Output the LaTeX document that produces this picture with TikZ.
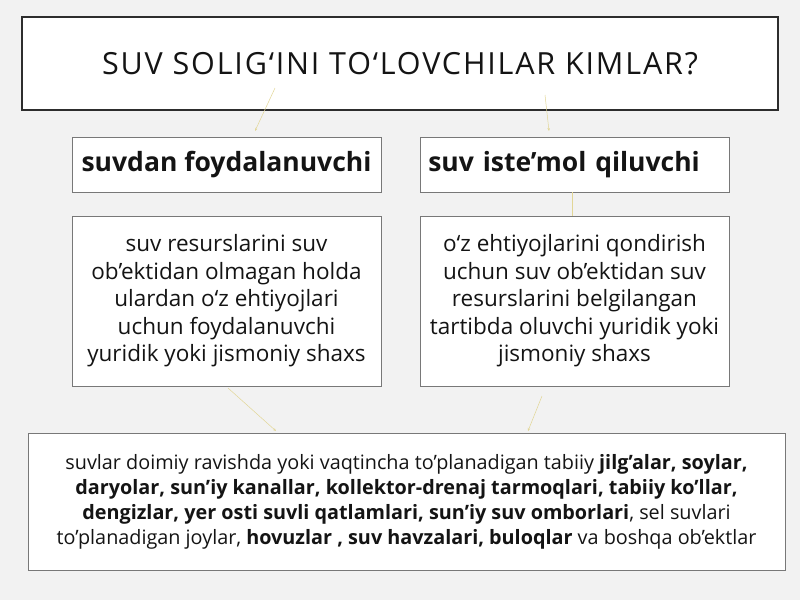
\documentclass[tikz,border=0pt]{standalone}
\usepackage{fontspec}
\setmainfont{Open Sans}
\usetikzlibrary{arrows.meta, positioning}
\definecolor{pagegray}{RGB}{242,242,242}
\definecolor{framedark}{RGB}{45,45,45}
\definecolor{framegray}{RGB}{120,120,120}
\definecolor{linkyellow}{RGB}{226,214,150}
\definecolor{textdark}{RGB}{20,20,20}

\begin{document}
\begin{tikzpicture}[x=1pt, y=-1pt,
    titlebox/.style={draw=framedark, line width=2pt, fill=white, minimum width=756pt, minimum height=93pt, inner sep=0pt},
    headbox/.style={draw=framegray, line width=0.6pt, fill=white, minimum width=309pt, minimum height=55pt, inner sep=0pt, font=\fontsize{26.5}{30}\selectfont\bfseries},
    descbox/.style={draw=framegray, line width=0.6pt, fill=white, minimum width=309pt, minimum height=170pt, inner sep=0pt, align=center, font=\fontsize{22.5}{27.5}\selectfont},
    wide/.style={draw=framegray, line width=0.6pt, fill=white, minimum width=757pt, minimum height=137pt, inner sep=0pt, align=center, font=\fontsize{19.8}{25}\selectfont},
    link/.style={linkyellow, line width=0.5pt, -{Stealth[length=3pt, width=2.5pt]}}]
    % page
    \fill[pagegray] (0,0) rectangle (800,600);
    \useasboundingbox (0,0) rectangle (800,600);

    % title
    \node[titlebox, text=textdark] (title) at (400,63.5)
        {\addfontfeatures{LetterSpace=6}\fontsize{30.5}{34}\selectfont SUV SOLIG‘INI TO‘LOVCHILAR KIMLAR?};

    % two kinds of payer
    \node[headbox, text=textdark] (user) at (226.5,164.5) {suvdan foydalanuvchi};
    \node[headbox, text=textdark, anchor=west, text width=293pt, inner xsep=8pt] (consumer) at (420,164.5) {suv iste’mol qiluvchi};

    \node[descbox, text=textdark] (userdef) at (226.5,301)
        {suv resurslarini suv\\ob’ektidan olmagan holda\\ulardan o‘z ehtiyojlari\\uchun foydalanuvchi\\yuridik yoki jismoniy shaxs};
    \node[descbox, text=textdark] (consdef) at (574.5,301)
        {o‘z ehtiyojlarini qondirish\\uchun suv ob’ektidan suv\\resurslarini belgilangan\\tartibda oluvchi yuridik yoki\\jismoniy shaxs};

    % water objects
    \node[wide, text=textdark] (objects) at (406.5,501.5)
        {\raisebox{0pt}[\height][\depth]{}%
         suvlar doimiy ravishda yoki vaqtincha to’planadigan tabiiy \textbf{jilg’alar, soylar,}\\
         \textbf{daryolar, sun’iy kanallar, kollektor-drenaj tarmoqlari, tabiiy ko’llar,}\\
         \textbf{dengizlar, yer osti suvli qatlamlari, sun’iy suv omborlari}, sel suvlari\\
         to’planadigan joylar, \textbf{hovuzlar , suv havzalari, buloqlar} va boshqa ob’ektlar};

    % faint links
    \coordinate (t1) at (275,88);
    \coordinate (t2) at (545,95);
    \coordinate (h1) at (255,131);
    \coordinate (h2) at (549,131);
    \draw[link] (t1) -- (h1);
    \draw[link] (t2) -- (h2);
    \draw[linkyellow, line width=0.5pt] (consdef.north) ++(-2,0) coordinate (c1) -- (c1 |- consumer.south);
    \coordinate (b1) at (228,388);
    \coordinate (b2) at (276,431);
    \coordinate (b3) at (542,396);
    \coordinate (b4) at (528,431);
    \draw[link] (b1) -- (b2);
    \draw[link] (b3) -- (b4);
\end{tikzpicture}
\end{document}
